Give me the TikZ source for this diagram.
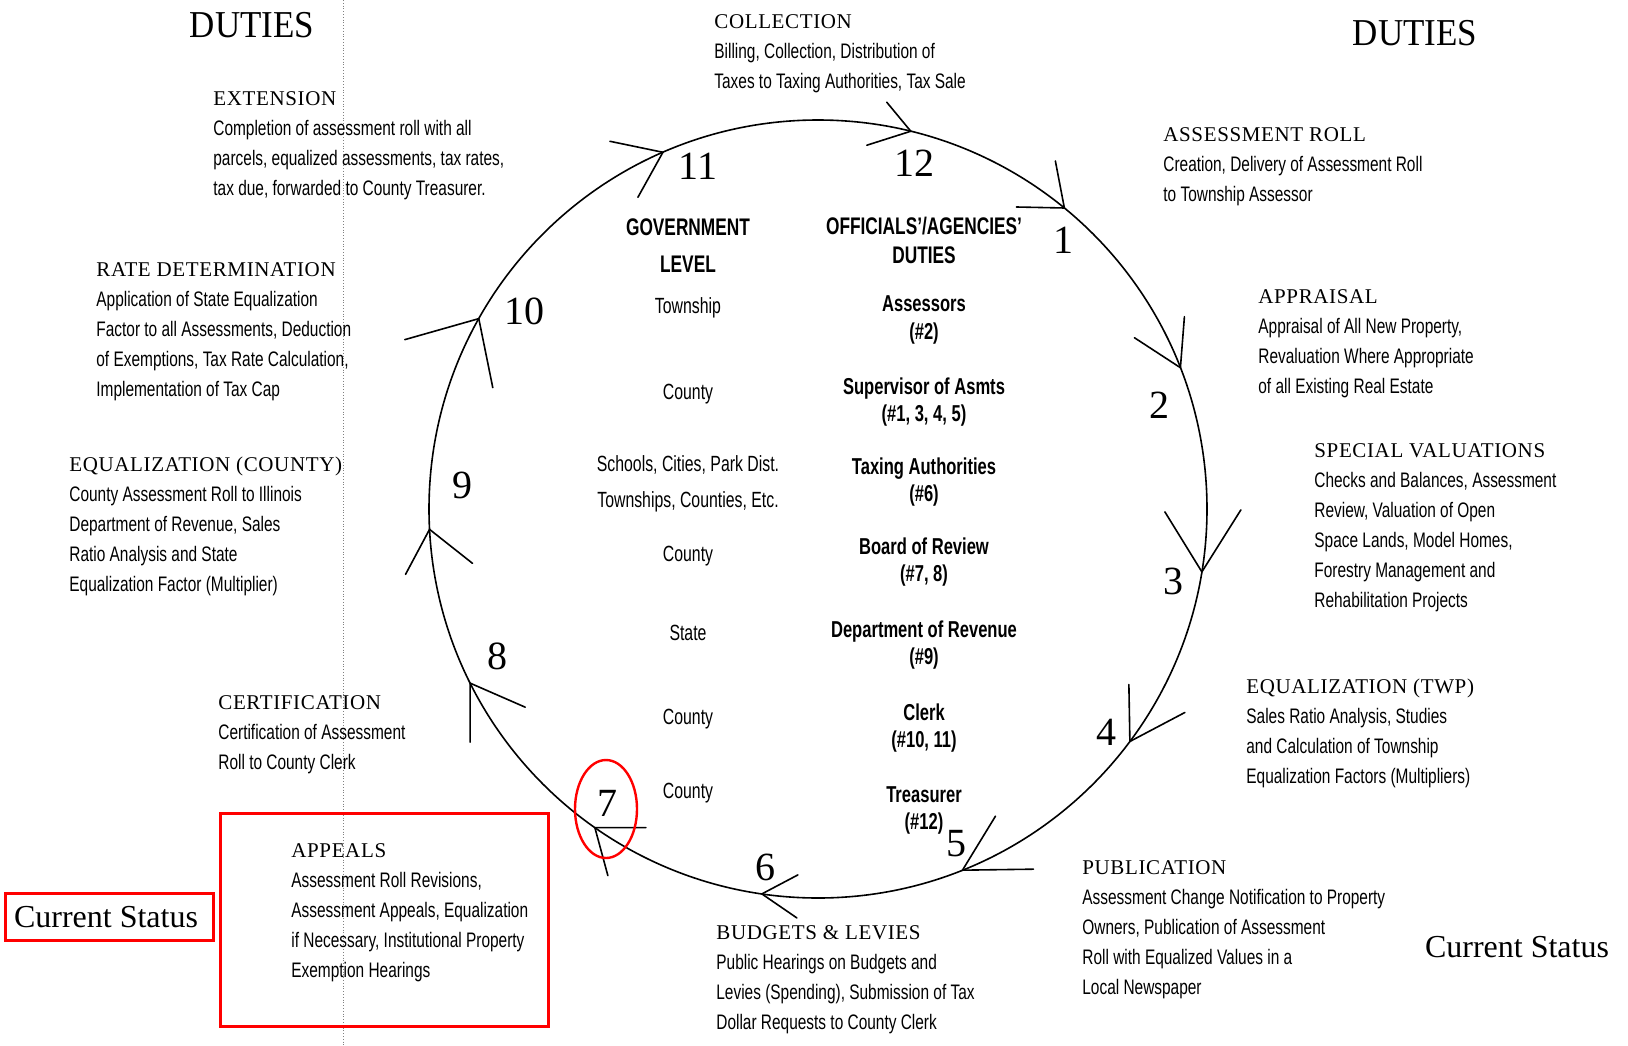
\documentclass[tikz,border=0pt]{standalone}
\usepackage{fontspec}
\setmainfont{Liberation Serif}
\newfontfamily\bodyf[FakeStretch=0.735]{Liberation Sans}
\newfontfamily\headf[LetterSpace=3]{Liberation Serif}
\newfontfamily\cellf[FakeStretch=0.72]{Liberation Sans}
\newfontfamily\titlef[FakeStretch=0.92]{Liberation Serif}
\newcommand\hd[1]{{\headf\fontsize{10.5}{15}\selectfont #1}}
\tikzset{
  blk/.style={anchor=north west, inner sep=0pt, align=left, font=\bodyf\fontsize{10.5}{15}\selectfont},
  num/.style={font=\fontsize{20}{20}\selectfont, inner sep=0pt},
  cellh/.style={font=\cellf\bfseries\fontsize{12}{14}\selectfont, inner sep=0pt, text height=8pt, text depth=0pt},
  cellr/.style={font=\cellf\bfseries\fontsize{11.5}{14}\selectfont, inner sep=0pt, text height=8pt, text depth=0pt},
  celll/.style={font=\cellf\fontsize{11}{14}\selectfont, inner sep=0pt, text height=8pt, text depth=0pt},
  ring/.style={line width=0.8pt},
  barb/.style={line width=0.8pt, line cap=round},
  redline/.style={draw=red, line width=1.5pt},
  titletext/.style={font=\titlef\fontsize{19}{19}\selectfont, inner sep=0pt},
  status/.style={font=\fontsize{16}{16}\selectfont, inner sep=0pt}
}
\begin{document}
\begin{tikzpicture}[x=0.5pt,y=-0.5pt]
\fill[white] (0,0) rectangle (1628,1045);
\useasboundingbox (0,0) rectangle (1628,1045);

% fold line
\draw[gray, line width=0.4pt, densely dotted] (343,0) -- (343,1045);

% titles
\node[titletext] (dutiesL) at (252,25) {DUTIES};
\node[titletext] (dutiesR) at (1415,33) {DUTIES};

% cycle
\coordinate (c) at (818,509);
\draw[ring] (c) circle (389);
\foreach \n/\a/\ax/\ay/\bx/\by in {
  1/309.3/-9/-47/-48/-1,
  2/338.7/4/-51/-46/-30,
  3/9.3/-37/-60/39/-62,
  4/36.7/-1/-57/55/-29,
  5/68.2/33/-54/71/-1,
  6/98.3/36/-19/35/24,
  7/125.0/51/0/13/48,
  8/153.4/55/24/0/59,
  9/177.0/-24/45/43/34,
  10/209.3/-74/21/14/69,
  11/246.5/-53/-11/-25/45,
  12/283.8/-24/-29/-44/14}{
  \path (c) ++(\a:389) coordinate (t\n);
  \draw[barb] (t\n) ++(\ax,\ay) -- (t\n) -- ++(\bx,\by);
}

% step numbers
\node[num] (n11) at (698,166) {11};
\node[num] (n12) at (914,163) {12};
\node[num] (n1) at (1063,240) {1};
\node[num] (n2) at (1159,405) {2};
\node[num] (n3) at (1173,581) {3};
\node[num] (n4) at (1106,732) {4};
\node[num] (n5) at (956,844) {5};
\node[num] (n6) at (765,867) {6};
\node[num] (n7) at (607,803) {7};
\node[num] (n8) at (497,656) {8};
\node[num] (n9) at (462,485) {9};
\node[num] (n10) at (524,311) {10};

% red ellipse around 7
\draw[red, line width=1.2pt] (606,809) ellipse [x radius=31, y radius=49];

% centre table
\node[cellh] (gh1) at (688,227) {GOVERNMENT};
\node[cellh] (gh2) at (688,264) {LEVEL};
\node[cellh] (oh1) at (924,226) {OFFICIALS’/AGENCIES’};
\node[cellh] (oh2) at (924,255) {DUTIES};
\node[celll] (g1) at (688,305) {Township};
\node[cellr] (o1a) at (924,303) {Assessors};
\node[cellr] (o1b) at (924,331) {(\#2)};
\node[celll] (g2) at (688,391) {County};
\node[cellr] (o2a) at (924,386) {Supervisor of Asmts};
\node[cellr] (o2b) at (924,413) {(\#1, 3, 4, 5)};
\node[celll] (g3a) at (688,463) {Schools, Cities, Park Dist.};
\node[celll] (g3b) at (688,499) {Townships, Counties, Etc.};
\node[cellr] (o3a) at (924,466) {Taxing Authorities};
\node[cellr] (o3b) at (924,493) {(\#6)};
\node[celll] (g4) at (688,553) {County};
\node[cellr] (o4a) at (924,546) {Board of Review};
\node[cellr] (o4b) at (924,573) {(\#7, 8)};
\node[celll] (g5) at (688,632) {State};
\node[cellr] (o5a) at (924,629) {Department of Revenue};
\node[cellr] (o5b) at (924,656) {(\#9)};
\node[celll] (g6) at (688,716) {County};
\node[cellr] (o6a) at (924,712) {Clerk};
\node[cellr] (o6b) at (924,739) {(\#10, 11)};
\node[celll] (g7) at (688,790) {County};
\node[cellr] (o7a) at (924,794) {Treasurer};
\node[cellr] (o7b) at (924,821) {(\#12)};

% duty blocks
\node[blk] (collection) at (714,14) {\hd{COLLECTION}\\Billing, Collection, Distribution of\\Taxes to Taxing Authorities, Tax Sale};
\node[blk] (extension) at (213,91) {\hd{EXTENSION}\\Completion of assessment roll with all\\parcels, equalized assessments, tax rates,\\tax due, forwarded to County Treasurer.};
\node[blk] (roll) at (1163,127) {\hd{ASSESSMENT ROLL}\\Creation, Delivery of Assessment Roll\\to Township Assessor};
\node[blk] (rate) at (96,262) {\hd{RATE DETERMINATION}\\Application of State Equalization\\Factor to all Assessments, Deduction\\of Exemptions, Tax Rate Calculation,\\Implementation of Tax Cap};
\node[blk] (appraisal) at (1258,289) {\hd{APPRAISAL}\\Appraisal of All New Property,\\Revaluation Where Appropriate\\of all Existing Real Estate};
\node[blk] (special) at (1314,443) {\hd{SPECIAL VALUATIONS}\\Checks and Balances, Assessment\\Review, Valuation of Open\\Space Lands, Model Homes,\\Forestry Management and\\Rehabilitation Projects};
\node[blk] (eqcounty) at (69,457) {\hd{EQUALIZATION (COUNTY)}\\County Assessment Roll to Illinois\\Department of Revenue, Sales\\Ratio Analysis and State\\Equalization Factor (Multiplier)};
\node[blk] (eqtwp) at (1246,679) {\hd{EQUALIZATION (TWP)}\\Sales Ratio Analysis, Studies\\and Calculation of Township\\Equalization Factors (Multipliers)};
\node[blk] (cert) at (218,695) {\hd{CERTIFICATION}\\Certification of Assessment\\Roll to County Clerk};
\node[blk] (appeals) at (291,843) {\hd{APPEALS}\\Assessment Roll Revisions,\\Assessment Appeals, Equalization\\if Necessary, Institutional Property\\Exemption Hearings};
\node[blk] (publication) at (1082,860) {\hd{PUBLICATION}\\Assessment Change Notification to Property\\Owners, Publication of Assessment\\Roll with Equalized Values in a\\Local Newspaper};
\node[blk] (budgets) at (716,925) {\hd{BUDGETS \& LEVIES}\\Public Hearings on Budgets and\\Levies (Spending), Submission of Tax\\Dollar Requests to County Clerk};

% red highlight boxes
\draw[redline] (220,813) rectangle (548,1026);
\draw[redline] (5,893) rectangle (213,940);
\node[status] (statusL) at (106,917) {Current Status};
\node[status] (statusR) at (1517,947) {Current Status};
\end{tikzpicture}
\end{document}
